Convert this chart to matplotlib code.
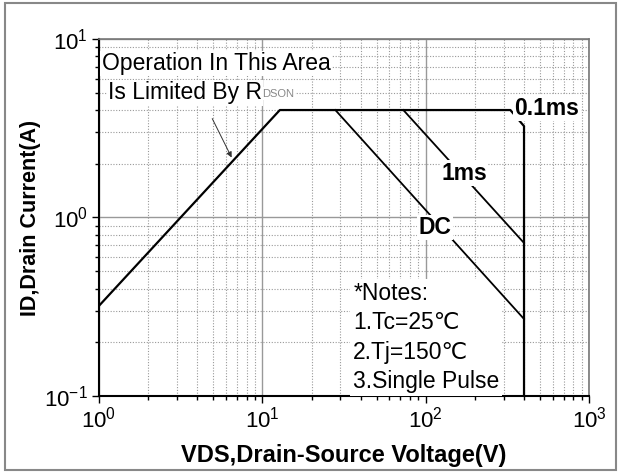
import matplotlib
matplotlib.use('Agg')
from matplotlib import pyplot as plt
from matplotlib.patches import Rectangle
from matplotlib.ticker import LogLocator, NullFormatter

plt.rcParams['font.family'] = ['Liberation Sans', 'DejaVu Sans']
plt.rcParams['mathtext.fontset'] = 'custom'
plt.rcParams['mathtext.rm'] = 'Liberation Sans'
plt.rcParams['mathtext.it'] = 'Liberation Sans'
plt.rcParams['mathtext.bf'] = 'Liberation Sans:bold'

# safe operating area boundary (RDSON limit, current limit, 0.1ms, breakdown)
soa_v = [1, 12.8, 330, 400, 400]
soa_i = [0.32, 4.0, 4.0, 3.25, 0.1]
# DC and 1ms pulse limits
dc_v = [28, 400]
dc_i = [4.0, 0.27]
ms1_v = [73, 400]
ms1_i = [4.0, 0.72]

x_ticks = [1, 10, 100, 1000]
x_labels = ['$10^{0}$', '$10^{1}$', '$10^{2}$', '$10^{3}$']
y_ticks = [0.1, 1, 10]
y_labels = ['$10^{-1}$', '$10^{0}$', '$10^{1}$']
notes = '*Notes:\n1.Tc=25\u2103\n2.Tj=150\u2103\n3.Single Pulse'

fig = plt.figure(figsize=(6.21, 4.74), dpi=100)
ax = fig.add_axes([0.1594, 0.1646, 0.9485 - 0.1594, 0.9177 - 0.1646])
fig.patches.append(Rectangle((0.008, 0.008), 0.984, 0.985, transform=fig.transFigure,
                             fill=False, edgecolor='#888888', lw=1.5))

ax.set_xscale('log')
ax.set_yscale('log')
ax.set_xlim(1, 1000)
ax.set_ylim(0.1, 10)

ax.grid(True, which='major', color='#999999', lw=1.0, ls='-')
ax.grid(True, which='minor', color='#999999', lw=0.8, ls=(0, (1, 1.5)))
ax.set_axisbelow(True)
ax.xaxis.set_minor_locator(LogLocator(base=10, subs=range(2, 10)))
ax.yaxis.set_minor_locator(LogLocator(base=10, subs=range(2, 10)))
ax.xaxis.set_minor_formatter(NullFormatter())
ax.yaxis.set_minor_formatter(NullFormatter())
ax.set_xticks(x_ticks)
ax.set_xticklabels(x_labels, fontsize=16)
ax.set_yticks(y_ticks)
ax.set_yticklabels(y_labels, fontsize=16)
ax.tick_params(which='major', direction='out', length=5, width=1, pad=3)
ax.tick_params(which='minor', direction='out', length=3, width=1)

for s in ['left', 'bottom']:
    ax.spines[s].set_linewidth(1.5)
    ax.spines[s].set_color('black')
for s in ['top', 'right']:
    ax.spines[s].set_linewidth(1.2)
    ax.spines[s].set_color('#777777')

ax.plot(soa_v, soa_i, color='black', lw=1.6, zorder=5)
ax.plot(dc_v, dc_i, color='black', lw=1.3, zorder=5)
ax.plot(ms1_v, ms1_i, color='black', lw=1.3, zorder=5)

box = dict(facecolor='white', edgecolor='none', pad=1)
ax.text(1.04, 7.3, 'Operation In This Area', fontsize=16.5, va='center', ha='left', bbox=box, zorder=4)
rds = ax.text(1.135, 5.0, 'Is Limited By R', fontsize=16.5, va='center', ha='left', bbox=box, zorder=4)
ax.annotate('DSON', xy=(1, 0), xycoords=rds, xytext=(0, 4), textcoords='offset points',
            fontsize=8, color='#888888', va='bottom', ha='left', bbox=box, zorder=4)
ax.annotate('', xy=(6.6, 2.1), xytext=(4.85, 3.7),
            arrowprops=dict(arrowstyle='-|>', color='#333333', lw=0.7, mutation_scale=8), zorder=4)

ax.text(350, 4.1, '0.1ms', fontsize=16.5, fontweight='bold', va='center', ha='left', bbox=box, zorder=6)
ax.text(172, 1.77, '1ms', fontsize=16.5, fontweight='bold', va='center', ha='center', bbox=box, zorder=6)
ax.text(114, 0.88, 'DC', fontsize=16.5, fontweight='bold', va='center', ha='center', bbox=box, zorder=6)
ax.text(36, 0.435, notes, fontsize=16.5, va='top', ha='left', linespacing=1.35,
        bbox=dict(facecolor='white', edgecolor='none', pad=2), zorder=4)

ax.set_xlabel('VDS,Drain-Source Voltage(V)', fontsize=17, fontweight='bold', labelpad=8)
ax.set_ylabel('ID,Drain Current(A)', fontsize=15.5, fontweight='bold', labelpad=2)

plt.savefig('out.png', dpi=100)
